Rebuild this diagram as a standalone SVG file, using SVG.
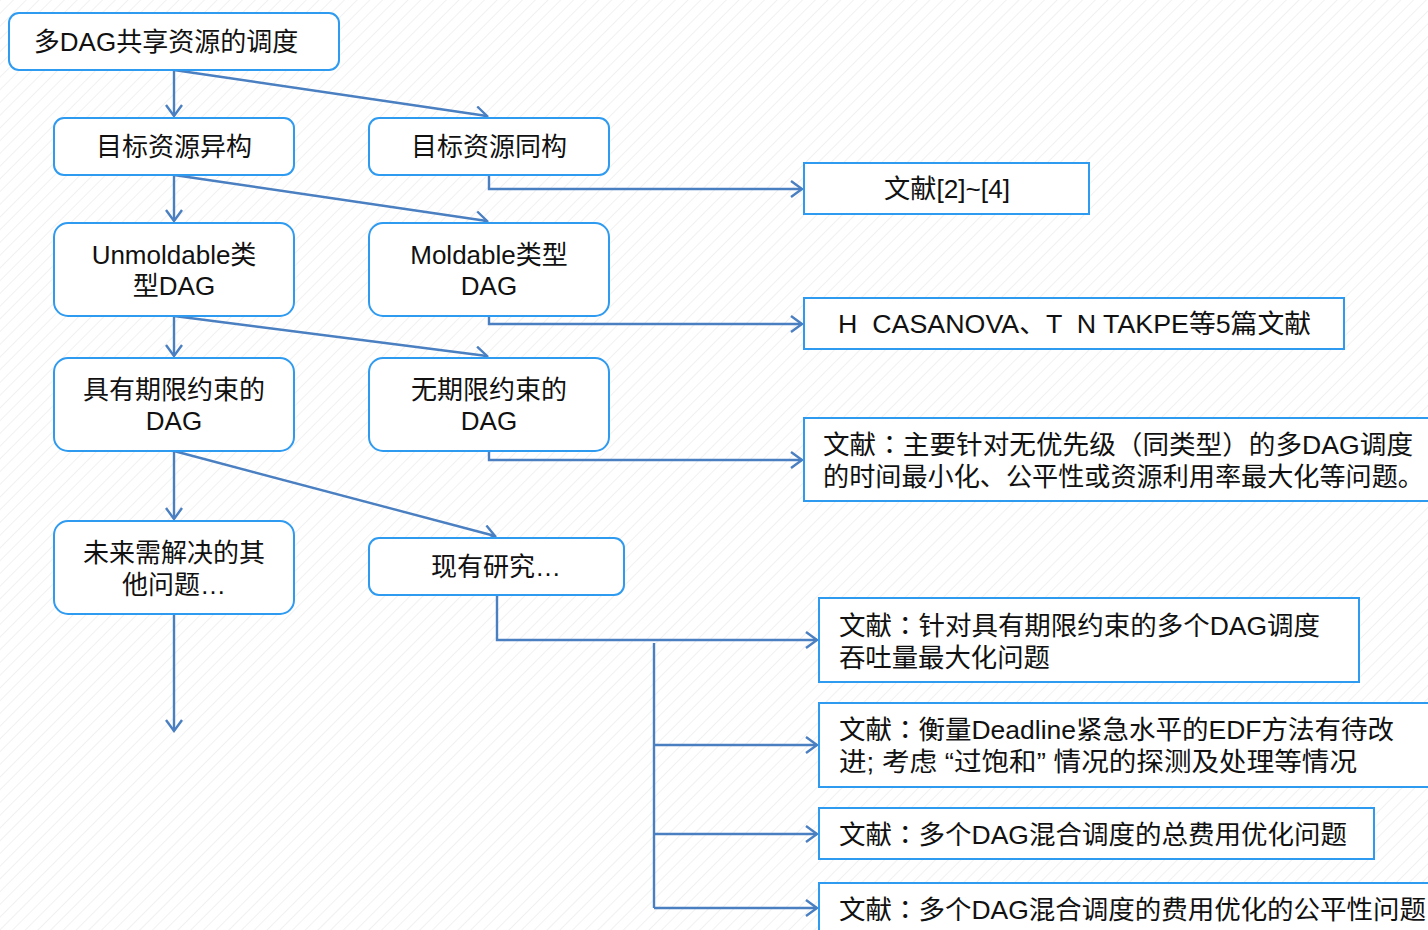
<svg xmlns="http://www.w3.org/2000/svg" width="1428" height="930" viewBox="0 0 1428 930">
<defs>
<pattern id="hatch" width="9" height="9" patternUnits="userSpaceOnUse" patternTransform="rotate(45)">
<line x1="0" y1="0" x2="0" y2="9" stroke="#e8e8e8" stroke-width="1.2"/>
</pattern>
<marker id="arr" markerWidth="16" markerHeight="18" refX="13" refY="9" orient="auto" markerUnits="userSpaceOnUse">
<path d="M2,1 L13,9 L2,17" fill="none" stroke="#4a7fc1" stroke-width="2.4"/>
</marker>
<style>
.n{fill:#fff;stroke:#2f9bf0;stroke-width:2}
.t{font-family:"Liberation Sans","Noto Sans CJK SC",sans-serif;font-size:26px;fill:#111;text-anchor:middle}
.r{font-family:"Liberation Sans Narrow","Liberation Sans","Noto Sans CJK SC",sans-serif;font-size:26px;fill:#111}
.p{font-family:"Noto Sans CJK TC",sans-serif}
.c{fill:none;stroke:#4a7fc1;stroke-width:2.4}
</style>
</defs>
<rect width="1428" height="930" fill="#fff"/>
<rect width="1428" height="930" fill="url(#hatch)"/>

<g id="connectors">
<path class="c" d="M174,70 V116" marker-end="url(#arr)"/>
<path class="c" d="M174,70 L487,116" marker-end="url(#arr)"/>
<path class="c" d="M174,175 V221" marker-end="url(#arr)"/>
<path class="c" d="M174,175 L487,221" marker-end="url(#arr)"/>
<path class="c" d="M174,316 V356" marker-end="url(#arr)"/>
<path class="c" d="M174,316 L487,356" marker-end="url(#arr)"/>
<path class="c" d="M174,451 V519" marker-end="url(#arr)"/>
<path class="c" d="M174,451 L495,536" marker-end="url(#arr)"/>
<path class="c" d="M174,614 V731" marker-end="url(#arr)"/>
<path class="c" d="M489,175 V189 H802" marker-end="url(#arr)"/>
<path class="c" d="M489,316 V324 H802" marker-end="url(#arr)"/>
<path class="c" d="M489,451 V460 H802" marker-end="url(#arr)"/>
<path class="c" d="M497,595 V640 H817" marker-end="url(#arr)"/>
<path class="c" d="M654,643 V908"/>
<path class="c" d="M654,745 H817" marker-end="url(#arr)"/>
<path class="c" d="M654,834 H817" marker-end="url(#arr)"/>
<path class="c" d="M654,908 H817" marker-end="url(#arr)"/>
</g>

<g id="n1"><rect class="n" x="9" y="13" width="330" height="57" rx="10"/><text class="t" x="166" y="51">多DAG共享资源的调度</text></g>
<g id="n2"><rect class="n" x="54" y="118" width="240" height="57" rx="10"/><text class="t" x="174" y="156">目标资源异构</text></g>
<g id="n3"><rect class="n" x="369" y="118" width="240" height="57" rx="10"/><text class="t" x="489" y="156">目标资源同构</text></g>
<g id="n4"><rect class="n" x="54" y="223" width="240" height="93" rx="14"/><text class="t" x="174" y="264">Unmoldable类</text><text class="t" x="174" y="295">型DAG</text></g>
<g id="n5"><rect class="n" x="369" y="223" width="240" height="93" rx="14"/><text class="t" x="489" y="264">Moldable类型</text><text class="t" x="489" y="295">DAG</text></g>
<g id="n6"><rect class="n" x="54" y="358" width="240" height="93" rx="14"/><text class="t" x="174" y="399">具有期限约束的</text><text class="t" x="174" y="430">DAG</text></g>
<g id="n7"><rect class="n" x="369" y="358" width="240" height="93" rx="14"/><text class="t" x="489" y="399">无期限约束的</text><text class="t" x="489" y="430">DAG</text></g>
<g id="n8"><rect class="n" x="54" y="521" width="240" height="93" rx="14"/><text class="t" x="174" y="562">未来需解决的其</text><text class="t" x="174" y="594">他问题…</text></g>
<g id="n9"><rect class="n" x="369" y="538" width="255" height="57" rx="10"/><text class="t" x="496" y="576">现有研究…</text></g>

<g id="r1"><rect class="n" x="804" y="163" width="285" height="51"/><text class="r" x="884" y="198" textLength="126" lengthAdjust="spacingAndGlyphs">文献[2]~[4]</text></g>
<g id="r2"><rect class="n" x="804" y="298" width="540" height="51"/><text class="r" x="838" y="333" textLength="473" lengthAdjust="spacingAndGlyphs" xml:space="preserve">H  CASANOVA、T  N TAKPE等5篇文献</text></g>
<g id="r3"><rect class="n" x="804" y="418" width="634" height="83"/><text class="r" x="823" y="454" textLength="590" lengthAdjust="spacingAndGlyphs">文献<tspan class="p">：</tspan>主要针对无优先级<tspan class="p">（</tspan>同类型<tspan class="p">）</tspan>的多DAG调度</text><text class="r" x="823" y="486" textLength="601" lengthAdjust="spacingAndGlyphs">的时间最小化、公平性或资源利用率最大化等问题。</text></g>
<g id="r4"><rect class="n" x="819" y="598" width="540" height="84"/><text class="r" x="839" y="635" textLength="481" lengthAdjust="spacingAndGlyphs">文献<tspan class="p">：</tspan>针对具有期限约束的多个DAG调度</text><text class="r" x="839" y="667" textLength="211" lengthAdjust="spacingAndGlyphs">吞吐量最大化问题</text></g>
<g id="r5"><rect class="n" x="819" y="703" width="619" height="84"/><text class="r" x="839" y="739" textLength="555" lengthAdjust="spacingAndGlyphs">文献<tspan class="p">：</tspan>衡量Deadline紧急水平的EDF方法有待改</text><text class="r" x="839" y="771" textLength="518" lengthAdjust="spacingAndGlyphs" xml:space="preserve">进; 考虑 “过饱和” 情况的探测及处理等情况</text></g>
<g id="r6"><rect class="n" x="819" y="808" width="555" height="51"/><text class="r" x="839" y="844" textLength="508" lengthAdjust="spacingAndGlyphs">文献<tspan class="p">：</tspan>多个DAG混合调度的总费用优化问题</text></g>
<g id="r7"><rect class="n" x="819" y="883" width="619" height="60"/><text class="r" x="839" y="919" textLength="587" lengthAdjust="spacingAndGlyphs">文献<tspan class="p">：</tspan>多个DAG混合调度的费用优化的公平性问题</text></g>
</svg>
